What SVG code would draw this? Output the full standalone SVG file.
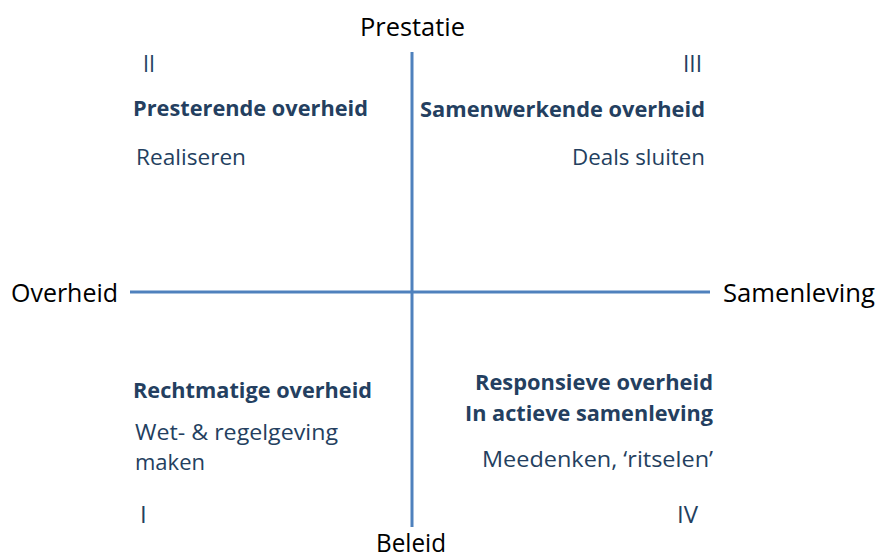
<svg xmlns="http://www.w3.org/2000/svg" width="879" height="560" viewBox="0 0 879 560">
<style>
text{font-family:"Open Sans","Liberation Sans",sans-serif}
.ax{font-size:26px;fill:#000}
.h{font-size:21px;font-weight:bold;fill:#243f60}
.t{font-size:22px;fill:#243f60}
.n{font-size:24px;fill:#243f60}
.line{stroke:#4f81bd;stroke-width:3;fill:none}
</style>
<g id="connectors">
<line class="line" x1="412" y1="52" x2="412" y2="527"/>
<line class="line" x1="130" y1="292" x2="710" y2="292"/>
</g>
<g id="axis-labels">
<text class="ax" x="360" y="36" textLength="105" lengthAdjust="spacingAndGlyphs">Prestatie</text>
<text class="ax" x="376" y="552" textLength="70" lengthAdjust="spacingAndGlyphs">Beleid</text>
<text class="ax" x="11" y="302" textLength="107" lengthAdjust="spacingAndGlyphs">Overheid</text>
<text class="ax" x="723" y="302" textLength="152" lengthAdjust="spacingAndGlyphs">Samenleving</text>
</g>
<g id="q2">
<text class="n" x="143" y="72" textLength="12" lengthAdjust="spacingAndGlyphs">II</text>
<text class="h" x="133" y="116" textLength="235" lengthAdjust="spacingAndGlyphs">Presterende overheid</text>
<text class="t" x="136" y="165" textLength="110" lengthAdjust="spacingAndGlyphs">Realiseren</text>
</g>
<g id="q3">
<text class="n" x="683" y="72" textLength="19" lengthAdjust="spacingAndGlyphs">III</text>
<text class="h" x="420" y="117" textLength="285" lengthAdjust="spacingAndGlyphs">Samenwerkende overheid</text>
<text class="t" x="572" y="165" textLength="133" lengthAdjust="spacingAndGlyphs">Deals sluiten</text>
</g>
<g id="q1">
<text class="n" x="140" y="523">I</text>
<text class="h" x="133" y="398" textLength="239" lengthAdjust="spacingAndGlyphs">Rechtmatige overheid</text>
<text class="t" x="135" y="440" textLength="203" lengthAdjust="spacingAndGlyphs">Wet- &amp; regelgeving</text>
<text class="t" x="135" y="470" textLength="70" lengthAdjust="spacingAndGlyphs">maken</text>
</g>
<g id="q4">
<text class="n" x="677" y="523" textLength="21" lengthAdjust="spacingAndGlyphs">IV</text>
<text class="h" x="475" y="390" textLength="238" lengthAdjust="spacingAndGlyphs">Responsieve overheid</text>
<text class="h" x="465" y="421" textLength="248" lengthAdjust="spacingAndGlyphs">In actieve samenleving</text>
<text class="t" x="482" y="467" textLength="231" lengthAdjust="spacingAndGlyphs">Meedenken, ‘ritselen’</text>
</g>
</svg>
